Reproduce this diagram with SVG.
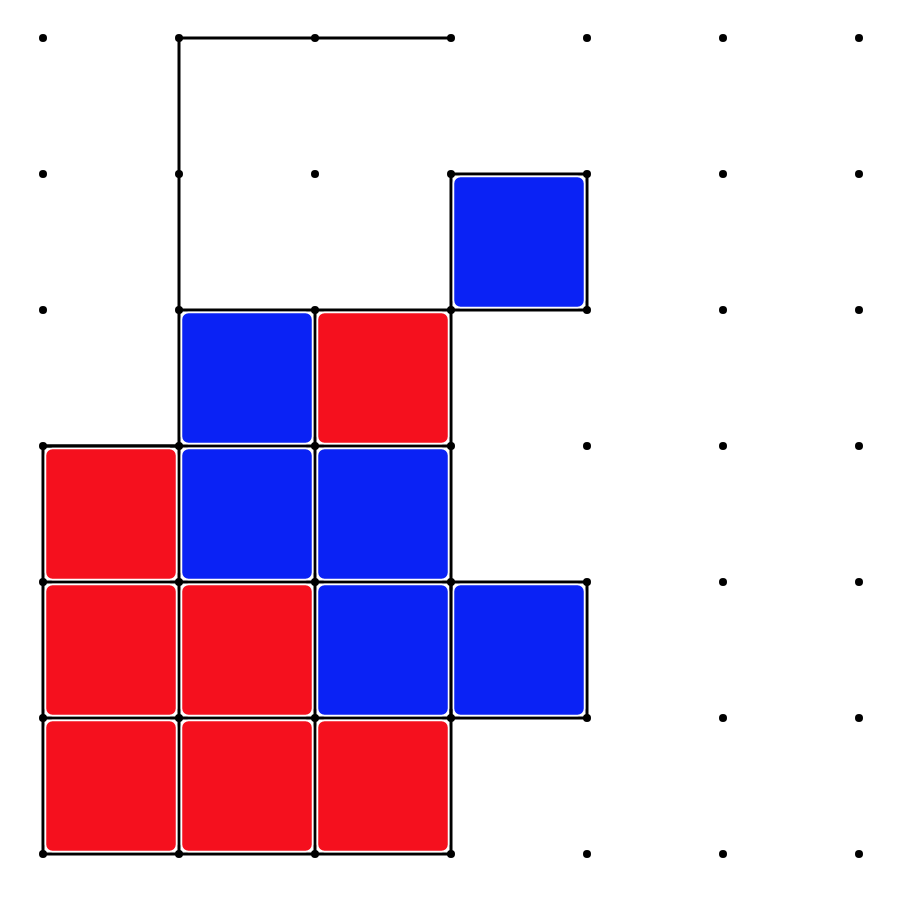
<svg xmlns="http://www.w3.org/2000/svg" width="898" height="900" viewBox="0 0 898 900">
<style>
.edge{fill:none;stroke:#000;stroke-width:3;stroke-linecap:round;stroke-linejoin:round}
.sq{stroke:#fff;stroke-width:1.5}
.red{fill:#f5101e}
.blue{fill:#0a22f5}
.dot{fill:#000}
</style>
<rect width="898" height="900" fill="#fff"/>
<g id="connectors">
<path class="edge" d="M179 310 V38 H451"/>
<path class="edge" d="M451 174 H587 V310 H451 Z"/>
<path class="edge" d="M179 310 H451 V854 H43 V446 H179 Z"/>
<path class="edge" d="M315 310 V854 M179 446 V854 M43 446 H451 M43 582 H587 V718 H43 M451 582 V718"/>
</g>
<g id="squares">
<rect id="b31" class="sq blue" x="453.5" y="176.5" width="131" height="131" rx="7"/>
<rect id="b12" class="sq blue" x="181.5" y="312.5" width="131" height="131" rx="7"/>
<rect id="r22" class="sq red" x="317.5" y="312.5" width="131" height="131" rx="7"/>
<rect id="r03" class="sq red" x="45.5" y="448.5" width="131" height="131" rx="7"/>
<rect id="b13" class="sq blue" x="181.5" y="448.5" width="131" height="131" rx="7"/>
<rect id="b23" class="sq blue" x="317.5" y="448.5" width="131" height="131" rx="7"/>
<rect id="r04" class="sq red" x="45.5" y="584.5" width="131" height="131" rx="7"/>
<rect id="r14" class="sq red" x="181.5" y="584.5" width="131" height="131" rx="7"/>
<rect id="b24" class="sq blue" x="317.5" y="584.5" width="131" height="131" rx="7"/>
<rect id="b34" class="sq blue" x="453.5" y="584.5" width="131" height="131" rx="7"/>
<rect id="r05" class="sq red" x="45.5" y="720.5" width="131" height="131" rx="7"/>
<rect id="r15" class="sq red" x="181.5" y="720.5" width="131" height="131" rx="7"/>
<rect id="r25" class="sq red" x="317.5" y="720.5" width="131" height="131" rx="7"/>
</g>
<defs><circle id="d" r="4" class="dot"/></defs>
<g id="dots">
<g transform="translate(0,38)"><use href="#d" x="43"/><use href="#d" x="179"/><use href="#d" x="315"/><use href="#d" x="451"/><use href="#d" x="587"/><use href="#d" x="723"/><use href="#d" x="859"/></g>
<g transform="translate(0,174)"><use href="#d" x="43"/><use href="#d" x="179"/><use href="#d" x="315"/><use href="#d" x="451"/><use href="#d" x="587"/><use href="#d" x="723"/><use href="#d" x="859"/></g>
<g transform="translate(0,310)"><use href="#d" x="43"/><use href="#d" x="179"/><use href="#d" x="315"/><use href="#d" x="451"/><use href="#d" x="587"/><use href="#d" x="723"/><use href="#d" x="859"/></g>
<g transform="translate(0,446)"><use href="#d" x="43"/><use href="#d" x="179"/><use href="#d" x="315"/><use href="#d" x="451"/><use href="#d" x="587"/><use href="#d" x="723"/><use href="#d" x="859"/></g>
<g transform="translate(0,582)"><use href="#d" x="43"/><use href="#d" x="179"/><use href="#d" x="315"/><use href="#d" x="451"/><use href="#d" x="587"/><use href="#d" x="723"/><use href="#d" x="859"/></g>
<g transform="translate(0,718)"><use href="#d" x="43"/><use href="#d" x="179"/><use href="#d" x="315"/><use href="#d" x="451"/><use href="#d" x="587"/><use href="#d" x="723"/><use href="#d" x="859"/></g>
<g transform="translate(0,854)"><use href="#d" x="43"/><use href="#d" x="179"/><use href="#d" x="315"/><use href="#d" x="451"/><use href="#d" x="587"/><use href="#d" x="723"/><use href="#d" x="859"/></g>
</g>
</svg>
